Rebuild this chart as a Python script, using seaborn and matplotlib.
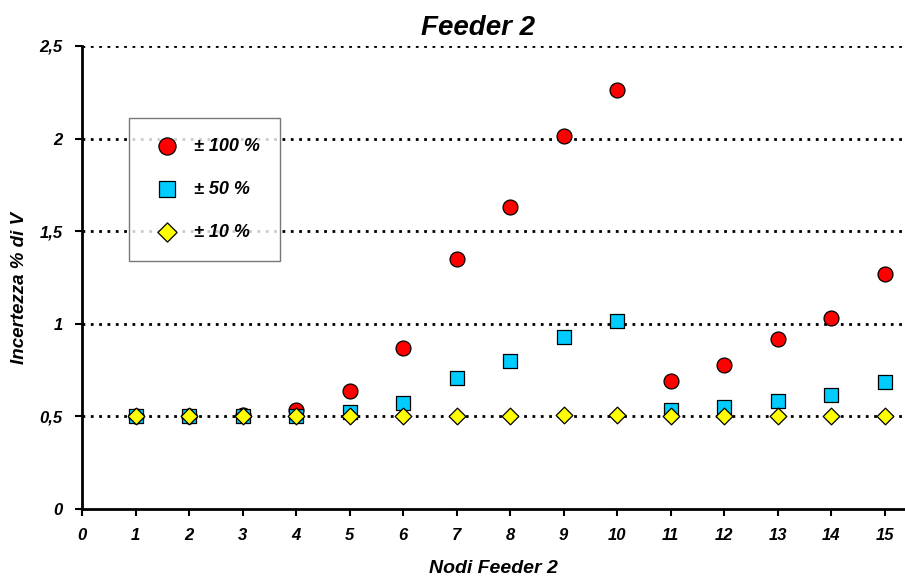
import matplotlib
matplotlib.use("Agg")
import matplotlib.pyplot as plt
import seaborn as sns
import pandas as pd

nodes = list(range(1, 16))
u100 = [0.50, 0.50, 0.505, 0.535, 0.635, 0.87, 1.35, 1.63, 2.015, 2.26, 0.69, 0.778, 0.917, 1.03, 1.268]
u50 = [0.50, 0.50, 0.50, 0.503, 0.524, 0.572, 0.707, 0.80, 0.929, 1.015, 0.535, 0.551, 0.583, 0.616, 0.684]
u10 = [0.50, 0.50, 0.50, 0.50, 0.50, 0.50, 0.50, 0.503, 0.506, 0.508, 0.50, 0.50, 0.50, 0.50, 0.50]
labels = ["± 100 %", "± 50 %", "± 10 %"]
xticks = list(range(0, 16))
yticks = [0, 0.5, 1, 1.5, 2, 2.5]
ytick_labels = ["0", "0,5", "1", "1,5", "2", "2,5"]

sns.set_style("white")
plt.rcParams["font.family"] = ["Liberation Sans", "DejaVu Sans"]
plt.rcParams["text.color"] = "black"
plt.rcParams["axes.labelcolor"] = "black"

fig = plt.figure(figsize=(9.05, 5.78), dpi=100)
ax = fig.add_axes([82/905, 1-509/578, (905-82)/905, (509-46)/578])

series = [(u100, labels[0], "#ff0000", "o", 115),
          (u50, labels[1], "#00ccff", "s", 105),
          (u10, labels[2], "#ffff00", "D", 72)]
for vals, lab, col, mk, sz in series:
    df = pd.DataFrame({"Nodo": nodes, "Valore": vals})
    sns.scatterplot(data=df, x="Nodo", y="Valore", ax=ax, color=col, marker=mk,
                    s=sz, edgecolor="black", linewidth=0.9, label=lab, zorder=3, clip_on=False)

ax.set_xlim(0, 15.38)
ax.set_ylim(0, 2.5)
ax.set_xticks(xticks)
ax.set_xticklabels([str(t) for t in xticks])
ax.set_yticks(yticks)
ax.set_yticklabels(ytick_labels)
for y in yticks[1:]:
    ax.axhline(y, color="black", linestyle=(0, (1, 2)), linewidth=2.0, zorder=1)

for s in ["top", "right"]:
    ax.spines[s].set_visible(False)
for s in ["left", "bottom"]:
    ax.spines[s].set_color("black")
    ax.spines[s].set_linewidth(2)
ax.tick_params(axis="both", bottom=True, left=True, direction="out", length=5, width=1.5,
               colors="black", labelcolor="black", labelsize=12, pad=9)
for lbl in ax.get_xticklabels() + ax.get_yticklabels():
    lbl.set_fontweight("bold")
    lbl.set_fontstyle("italic")

ax.set_xlabel("Nodi Feeder 2", fontsize=14, fontweight="bold", fontstyle="italic",
              labelpad=12, color="black")
ax.set_ylabel("Incertezza % di V", fontsize=13.5, fontweight="bold", fontstyle="italic",
              color="black")
ax.yaxis.set_label_coords(-0.066, 0.478)
ax.set_title("Feeder 2", fontsize=20, fontweight="bold", fontstyle="italic", pad=8,
             color="black", x=(478-82)/823)

leg = ax.legend(loc="upper left", bbox_to_anchor=((129-82)/823, (509-118)/463),
                borderaxespad=0, frameon=True, fancybox=False, edgecolor="#555555",
                labelspacing=1.45, handletextpad=0.5, borderpad=1.1, markerscale=1.15,
                prop={"weight": "bold", "style": "italic", "size": 13})
leg.get_frame().set_linewidth(1.0)
for t in leg.get_texts():
    t.set_color("black")

fig.savefig("out.png", dpi=100)
